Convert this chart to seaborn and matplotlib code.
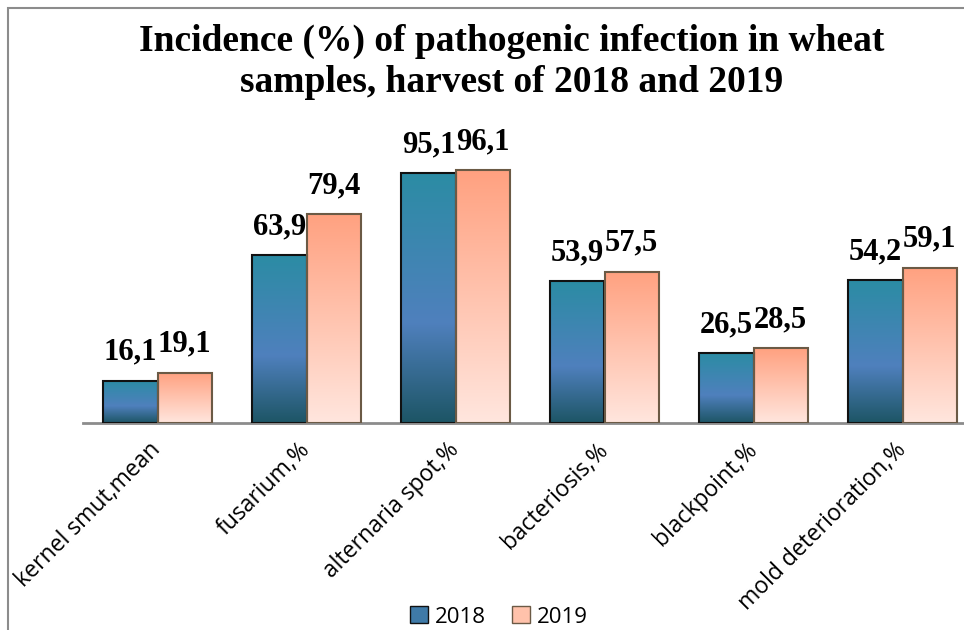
import matplotlib
matplotlib.use("Agg")
import matplotlib.pyplot as plt
import numpy as np
import pandas as pd
import seaborn as sns
from matplotlib.colors import LinearSegmentedColormap
from matplotlib.patches import Patch, Rectangle

# ─────────────────────────────────────────────────────────────────
# Data
# ─────────────────────────────────────────────────────────────────
categories = ["kernel smut,mean", "fusarium,%", "alternaria spot,%",
              "bacteriosis,%", "blackpoint,%", "mold deterioration,%"]
years = ["2018", "2019"]
values_2018 = [16.1, 63.9, 95.1, 53.9, 26.5, 54.2]
values_2019 = [19.1, 79.4, 96.1, 57.5, 28.5, 59.1]

title = "Incidence (%) of pathogenic infection in wheat\nsamples, harvest of 2018 and 2019"

# gradient stops, bottom -> top
grad_2018 = LinearSegmentedColormap.from_list(
    "g18", [(0.0, "#1d5565"), (0.40, "#4f80bd"), (1.0, "#2b8ca4")])
grad_2019 = LinearSegmentedColormap.from_list(
    "g19", [(0.0, "#ffe6de"), (1.0, "#ffa180")])
edges = {"2018": "#111111", "2019": "#6b5a45"}


def comma(v):
    return f"{v:.1f}".replace(".", ",")


df = pd.DataFrame({
    "category": categories * 2,
    "year": ["2018"] * len(categories) + ["2019"] * len(categories),
    "value": values_2018 + values_2019,
})

sns.set_style("white")
plt.rcParams["font.family"] = ["Open Sans", "DejaVu Sans"]
plt.rcParams["text.color"] = "black"

fig = plt.figure(figsize=(9.64, 6.30), dpi=100)
ax = fig.add_axes([83 / 964, 207 / 630, 894 / 964, 263 / 630])

sns.barplot(data=df, x="category", y="value", hue="year", order=categories,
            hue_order=years, palette={"2018": "#4f80bd", "2019": "#ffc0a8"},
            width=0.725, gap=0, errorbar=None, ax=ax, legend=False)

grad = np.linspace(0, 1, 256).reshape(-1, 1)
for year, cont in zip(years, ax.containers):
    cmap = grad_2018 if year == "2018" else grad_2019
    for bar in cont:
        x0, y0 = bar.get_x(), bar.get_y()
        w, h = bar.get_width(), bar.get_height()
        im = ax.imshow(grad, cmap=cmap, origin="lower", aspect="auto",
                       extent=(x0, x0 + w, y0, y0 + h), zorder=2)
        im.set_clip_path(bar)
        bar.set_facecolor("none")
        bar.set_edgecolor(edges[year])
        bar.set_linewidth(1.5)
        bar.set_zorder(3)
    ax.bar_label(cont, labels=[comma(v) for v in cont.datavalues], padding=10,
                 fontsize=22, fontweight="bold", family="Liberation Serif",
                 color="black")

ax.set_xlim(-0.5, len(categories) - 0.5)
ax.set_ylim(0, 100)
ax.set_xlabel("")
ax.set_ylabel("")
ax.set_yticks([])
for s in ("top", "right", "left"):
    ax.spines[s].set_visible(False)
ax.spines["bottom"].set_color("#8c8c8c")
ax.spines["bottom"].set_linewidth(2)
ax.tick_params(axis="x", length=0, pad=17, labelcolor="black")
plt.setp(ax.get_xticklabels(), rotation=45, ha="right", va="center",
         rotation_mode="anchor", fontsize=16.5)

fig.text(512 / 964, 1 - 62 / 630, title, ha="center", va="center",
         fontsize=27, fontweight="bold", family="Liberation Serif",
         linespacing=1.2, color="black")

handles = [Patch(facecolor="#3f7aa8", edgecolor=edges["2018"], label="2018"),
           Patch(facecolor="#ffc2ab", edgecolor=edges["2019"], label="2019")]
fig.legend(handles=handles, loc="center", bbox_to_anchor=(499 / 964, 1 - 617 / 630),
           ncol=2, frameon=False, fontsize=16, handlelength=0.8, handleheight=0.8,
           handletextpad=0.3, columnspacing=1.2, labelcolor="black",
           borderpad=0.1)

fig.add_artist(Rectangle((8 / 964, -0.1), 1.2, 1 - 8 / 630 + 0.1,
                         transform=fig.transFigure, fill=False,
                         edgecolor="#8c8c8c", linewidth=1.5))

fig.savefig("out.png", dpi=100)
